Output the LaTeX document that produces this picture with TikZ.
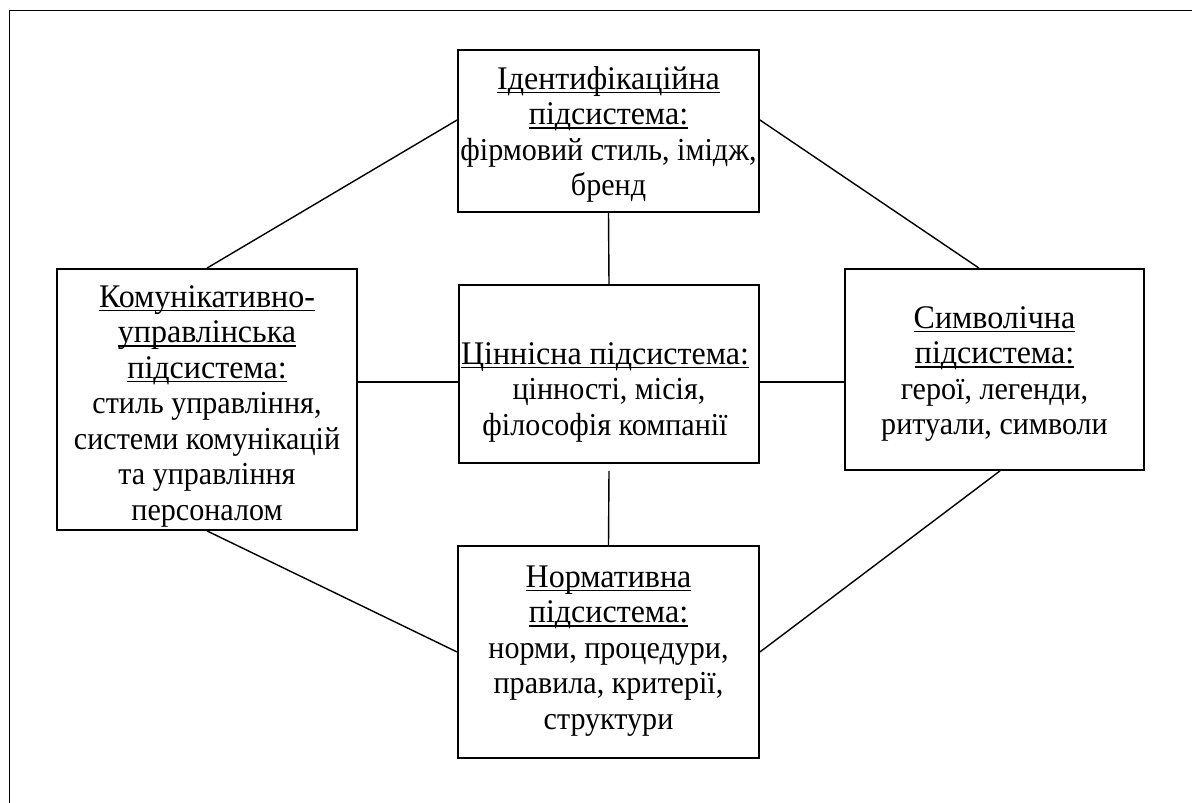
\documentclass[tikz,border=0pt]{standalone}
\usepackage{fontspec}
\setmainfont[FakeStretch=0.94]{Liberation Serif}
\newfontfamily\headfont[FakeStretch=0.97]{Liberation Serif}
\newcommand{\myul}[1]{\setbox0=\hbox{#1}\rlap{\rule[-4pt]{\wd0}{1.5pt}}\box0}
\newcommand{\headul}[1]{\myul{\headfont\fontsize{33}{35.5}\selectfont #1}}
\tikzset{
  boxnode/.style={draw, line width=1.8pt, inner sep=0pt},
  txtnode/.style={anchor=north, align=center, inner sep=0pt, font=\fontsize{32}{35.5}\selectfont},
  link/.style={line width=1.4pt},
}
\begin{document}
\begin{tikzpicture}[x=1pt,y=-1pt]
\useasboundingbox (0,0) rectangle (1192,803);
% outer frame (top and left only)
\draw[line width=1.8pt] (1192,10.5) -- (9.5,10.5) -- (9.5,803);

% boxes
\node[boxnode, minimum width=301pt, minimum height=162pt] (tbox) at (608.5,131) {};
\node[boxnode, minimum width=300pt, minimum height=261pt] (lbox) at (207,399.5) {};
\node[boxnode, minimum width=300pt, minimum height=178pt] (cbox) at (609,374) {};
\node[boxnode, minimum width=299pt, minimum height=201pt] (rbox) at (994.5,369.5) {};
\node[boxnode, minimum width=301pt, minimum height=212pt] (bbox) at (608.5,652) {};

% texts
\node[txtnode] (ttxt) at ([yshift=-15.2pt]tbox.north)
  {\strut\headul{Ідентифікаційна}\\\headul{підсистема:}\\фірмовий стиль, імідж,\\бренд};
\node[txtnode] (ltxt) at ([yshift=-14.2pt]lbox.north)
  {\strut\headul{Комунікативно-}\\\headul{управлінська}\\\headul{підсистема:}\\стиль управління,\\системи комунікацій\\та управління\\персоналом};
\node[txtnode] (ctxt) at ([xshift=-4pt,yshift=-55.2pt]cbox.north)
  {\strut\headul{Ціннісна підсистема:}\\\hspace{8pt}цінності, місія,\\філософія компанії};
\node[txtnode] (rtxt) at ([yshift=-35.2pt]rbox.north)
  {\strut\headul{Символічна}\\\headul{підсистема:}\\герої, легенди,\\ритуали, символи};
\node[txtnode] (btxt) at ([yshift=-17.2pt]bbox.north)
  {\strut\headul{Нормативна}\\\headul{підсистема:}\\норми, процедури,\\правила, критерії,\\структури};

% connectors
\coordinate (tl) at ([yshift=11pt]tbox.west);
\coordinate (tr) at ([yshift=11pt]tbox.east);
\coordinate (rt) at ([xshift=-15.5pt]rbox.north);
\coordinate (hl) at ([yshift=-8pt]cbox.west);
\coordinate (hr) at ([yshift=-8pt]cbox.east);
\coordinate (cb) at ([yshift=-7pt]cbox.south);
\coordinate (rb) at ([xshift=5.5pt]rbox.south);

\draw[link] (lbox.north) -- (tl);
\draw[link] (tr) -- (rt);
\draw[link] (tbox.south) -- (cbox.north);
\draw[link] (lbox.east |- hl) -- (hl);
\draw[link] (hr) -- (rbox.west |- hr);
\draw[link] (cb) -- (bbox.north);
\draw[link] (lbox.south) -- (bbox.west);
\draw[link] (rb) -- (bbox.east);
\end{tikzpicture}
\end{document}
